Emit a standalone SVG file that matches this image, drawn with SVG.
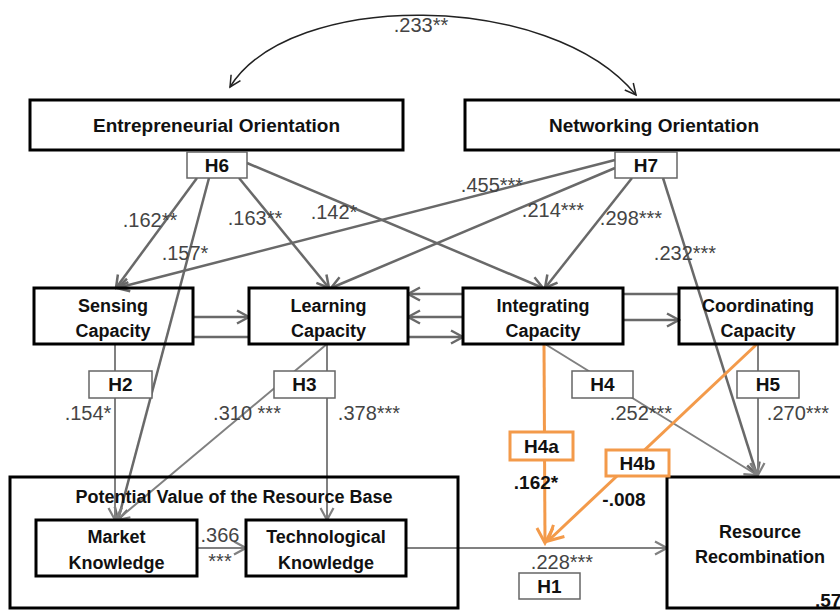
<svg xmlns="http://www.w3.org/2000/svg" width="840" height="612" viewBox="0 0 840 612">
<style>
.box{fill:none;stroke:#000;stroke-width:3}
.boxw{fill:#fff;stroke:#000;stroke-width:3}
.hbox{fill:#fff;stroke:#666;stroke-width:1.5}
.obox{fill:#fff;stroke:#f39a4a;stroke-width:3}
.t{font-family:"Liberation Sans",Arial,sans-serif;font-weight:bold;font-size:18px;fill:#111;text-anchor:middle}
.tt{font-family:"Liberation Sans",Arial,sans-serif;font-weight:bold;font-size:19px;fill:#111;text-anchor:middle}
.h{font-family:"Liberation Sans",Arial,sans-serif;font-weight:bold;font-size:19px;fill:#111;text-anchor:middle}
.n{font-family:"Liberation Sans",Arial,sans-serif;font-size:20px;fill:#444;text-anchor:middle}
.nb{font-family:"Liberation Sans",Arial,sans-serif;font-weight:bold;font-size:19px;fill:#111;text-anchor:middle}
.c1{fill:none;stroke:#696969;stroke-width:2.5;marker-end:url(#a1)}
.c1n{fill:none;stroke:#696969;stroke-width:2.5}
.c2{fill:none;stroke:#808080;stroke-width:2;marker-end:url(#a2)}
.c2n{fill:none;stroke:#808080;stroke-width:2}
.co{fill:none;stroke:#f39a4a;stroke-width:3;marker-end:url(#ao)}
.arc{fill:none;stroke:#222;stroke-width:1.5;marker-start:url(#ab);marker-end:url(#ab)}
</style>
<defs>
<marker id="a1" markerUnits="userSpaceOnUse" markerWidth="16" markerHeight="16" viewBox="0 0 16 16" refX="14" refY="8" orient="auto"><path d="M2,1.5 L14,8 L2,14.5" fill="none" stroke="#696969" stroke-width="2.5"/></marker>
<marker id="a2" markerUnits="userSpaceOnUse" markerWidth="16" markerHeight="16" viewBox="0 0 16 16" refX="14" refY="8" orient="auto"><path d="M2,1.5 L14,8 L2,14.5" fill="none" stroke="#808080" stroke-width="2.2"/></marker>
<marker id="ao" markerUnits="userSpaceOnUse" markerWidth="20" markerHeight="20" viewBox="0 0 20 20" refX="17" refY="10" orient="auto"><path d="M2,2 L17,10 L2,18" fill="none" stroke="#f39a4a" stroke-width="3"/></marker>
<marker id="ab" markerUnits="userSpaceOnUse" markerWidth="14" markerHeight="14" viewBox="0 0 14 14" refX="12" refY="7" orient="auto-start-reverse"><path d="M1,1.5 L12,7 L1,12.5" fill="none" stroke="#222" stroke-width="1.5"/></marker>
</defs>
<rect width="840" height="612" fill="#fff"/>

<g id="connectors">
<path class="arc" d="M230,87 C290,-10 550,-10 636,95"/>
<line class="c1" x1="197" y1="178" x2="116" y2="288"/>
<line class="c1" x1="209" y1="178" x2="118" y2="520"/>
<line class="c1" x1="239" y1="178" x2="329" y2="288"/>
<line class="c1" x1="247" y1="163" x2="543" y2="288"/>
<line class="c1" x1="615" y1="160" x2="117" y2="288"/>
<line class="c1" x1="615" y1="168" x2="331" y2="288"/>
<line class="c1" x1="632" y1="178" x2="545" y2="288"/>
<line class="c1" x1="663" y1="178" x2="757" y2="475"/>
<line class="c1" x1="193" y1="317" x2="249" y2="317"/>
<line class="c1" x1="193" y1="337" x2="463" y2="337"/>
<line class="c1" x1="463" y1="317" x2="408" y2="317"/>
<line class="c1" x1="679" y1="294" x2="408" y2="294"/>
<line class="c1" x1="623" y1="320" x2="679" y2="320"/>
<line class="c2" x1="115" y1="344" x2="115" y2="520"/>
<line class="c2" x1="327" y1="344" x2="117" y2="520"/>
<line class="c2" x1="327" y1="344" x2="327" y2="520"/>
<line class="c2" x1="545" y1="344" x2="757" y2="475"/>
<line class="c2" x1="758" y1="344" x2="758" y2="475"/>
<line class="c2" x1="197" y1="548" x2="246" y2="548"/>
<line class="c2" x1="406" y1="548" x2="667" y2="548"/>
<line class="co" x1="544" y1="344" x2="545" y2="543"/>
<line class="co" x1="757" y1="344" x2="548" y2="541"/>
</g>

<g id="entrepreneurial-orientation"><rect class="boxw" x="30" y="100" width="373" height="50"/><text class="tt" x="216.5" y="132">Entrepreneurial Orientation</text></g>
<g id="networking-orientation"><rect class="boxw" x="465" y="100" width="390" height="50"/><text class="tt" x="654" y="132">Networking Orientation</text></g>

<g id="sensing"><rect class="box" x="34" y="288" width="159" height="56"/><text class="t" x="113" y="311.5">Sensing</text><text class="t" x="113" y="336.5">Capacity</text></g>
<g id="learning"><rect class="boxw" x="249" y="288" width="159" height="56"/><text class="t" x="328.5" y="311.5">Learning</text><text class="t" x="328.5" y="336.5">Capacity</text></g>
<g id="integrating"><rect class="boxw" x="463" y="288" width="160" height="56"/><text class="t" x="543" y="311.5">Integrating</text><text class="t" x="543" y="336.5">Capacity</text></g>
<g id="coordinating"><rect class="box" x="679" y="288" width="158" height="56"/><text class="t" x="758" y="311.5">Coordinating</text><text class="t" x="758" y="336.5">Capacity</text></g>

<g id="potential-value"><rect class="box" x="10" y="477" width="448" height="131"/><text class="t" x="234" y="503">Potential Value of the Resource Base</text></g>
<g id="market-knowledge"><rect class="boxw" x="36" y="520" width="161" height="56"/><text class="t" x="116.5" y="543">Market</text><text class="t" x="116.5" y="569">Knowledge</text></g>
<g id="technological-knowledge"><rect class="boxw" x="246" y="520" width="160" height="56"/><text class="t" x="326" y="543">Technological</text><text class="t" x="326" y="569">Knowledge</text></g>
<g id="resource-recombination"><rect class="boxw" x="667" y="477" width="190" height="131"/><text class="t" x="760" y="538">Resource</text><text class="t" x="760" y="563">Recombination</text><text class="nb" x="815" y="607" style="text-anchor:start">.57</text></g>

<g id="h6"><rect class="hbox" x="187" y="152" width="60" height="26"/><text class="h" x="217" y="172">H6</text></g>
<g id="h7"><rect class="hbox" x="615" y="152" width="62" height="26"/><text class="h" x="646" y="172">H7</text></g>
<g id="h2"><rect class="hbox" x="89" y="371" width="63" height="27"/><text class="h" x="120.5" y="391">H2</text></g>
<g id="h3"><rect class="hbox" x="274" y="371" width="61" height="27"/><text class="h" x="304.5" y="391">H3</text></g>
<g id="h4"><rect class="hbox" x="572" y="371" width="61" height="27"/><text class="h" x="602.5" y="391">H4</text></g>
<g id="h5"><rect class="hbox" x="737" y="371" width="62" height="27"/><text class="h" x="768" y="391">H5</text></g>
<g id="h4a"><rect class="obox" x="510" y="432" width="63" height="28"/><text class="h" x="541.5" y="453">H4a</text></g>
<g id="h4b"><rect class="obox" x="606" y="450" width="63" height="26"/><text class="h" x="637.5" y="470">H4b</text></g>
<g id="h1"><rect class="hbox" x="519" y="573" width="61" height="26"/><text class="h" x="549.5" y="593">H1</text></g>

<g id="labels">
<text class="n" x="421" y="32">.233**</text>
<text class="n" x="150" y="227">.162**</text>
<text class="n" x="185" y="260">.157*</text>
<text class="n" x="255" y="225">.163**</text>
<text class="n" x="334" y="219">.142*</text>
<text class="n" x="492" y="192">.455***</text>
<text class="n" x="553" y="217">.214***</text>
<text class="n" x="631" y="225">.298***</text>
<text class="n" x="685" y="260">.232***</text>
<text class="n" x="88" y="420">.154*</text>
<text class="n" x="247" y="420">.310 ***</text>
<text class="n" x="369" y="420">.378***</text>
<text class="n" x="641" y="420">.252***</text>
<text class="n" x="798" y="420">.270***</text>
<text class="n" x="220" y="542">.366</text>
<text class="n" x="220" y="568">***</text>
<text class="n" x="562" y="569">.228***</text>
<text class="nb" x="536" y="489">.162*</text>
<text class="nb" x="624" y="506">-.008</text>
</g>
</svg>
